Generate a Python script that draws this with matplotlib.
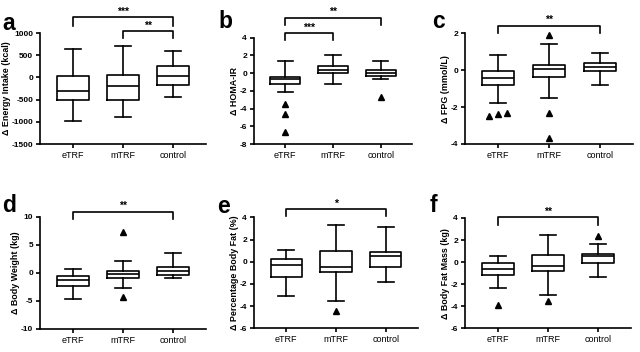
import matplotlib.pyplot as plt

plt.rcParams['font.family'] = ['Liberation Sans', 'DejaVu Sans']

groups = ["eTRF", "mTRF", "control"]

# box stats per panel: (whislo, q1, med, q3, whishi) for eTRF, mTRF, control
energy_stats = [(-980, -500, -310, 30, 650), (-900, -500, -200, 50, 710), (-450, -160, 30, 260, 600)]
energy_fliers = [[], [], []]
homa_stats = [(-2.1, -1.26, -0.7, -0.4, 1.33), (-1.19, -0.02, 0.4, 0.77, 2.0), (-0.66, -0.32, 0.05, 0.35, 1.33)]
homa_fliers = [[-3.5, -4.65, -6.64], [], [-2.73]]
fpg_stats = [(-1.8, -0.8, -0.44, -0.04, 0.82), (-1.49, -0.39, 0.07, 0.28, 1.42), (-0.8, -0.04, 0.19, 0.37, 0.91)]
fpg_fliers = [[-2.48, -2.3, -2.39], [1.9, -2.3, -3.7], []]
weight_stats = [(-4.75, -2.36, -1.34, -0.63, 0.63), (-2.66, -0.98, -0.2, 0.33, 2.18), (-0.98, -0.45, 0.33, 1.1, 3.5)]
weight_fliers = [[], [7.3, -4.27], []]
pbf_stats = [(-3.1, -1.4, -0.3, 0.28, 1.06), (-3.5, -0.92, -0.45, 1.0, 3.28), (-1.8, -0.45, 0.5, 0.9, 3.1)]
pbf_fliers = [[], [-4.4], []]
fatmass_stats = [(-2.34, -1.2, -0.59, -0.11, 0.56), (-2.98, -0.77, -0.35, 0.62, 2.49), (-1.32, -0.08, 0.56, 0.7, 1.67)]
fatmass_fliers = [[-3.85], [-3.49], [2.37]]

# significance brackets: (from group, to group, label)
energy_sig = [(0, 2, "***"), (1, 2, "**")]
homa_sig = [(0, 2, "**"), (0, 1, "***")]
fpg_sig = [(0, 2, "**")]
weight_sig = [(0, 2, "**")]
pbf_sig = [(0, 2, "*")]
fatmass_sig = [(0, 2, "**")]

panels = [
    ("a", "Δ Energy Intake (kcal)", energy_stats, energy_fliers, energy_sig, (-1500, 1000), 500, [1360, 1045]),
    ("b", "Δ HOMA-IR", homa_stats, homa_fliers, homa_sig, (-8, 4), 2, [6.26, 4.5]),
    ("c", "Δ FPG (mmol/L)", fpg_stats, fpg_fliers, fpg_sig, (-4, 2), 2, [2.42]),
    ("d", "Δ Body Weight (kg)", weight_stats, weight_fliers, weight_sig, (-10, 10), 5, [10.96]),
    ("e", "Δ Percentage Body Fat (%)", pbf_stats, pbf_fliers, pbf_sig, (-6, 4), 2, [4.76]),
    ("f", "Δ Body Fat Mass (kg)", fatmass_stats, fatmass_fliers, fatmass_sig, (-6, 4), 2, [4.06]),
]

# axes rectangles in pixels (left, top, right, bottom) of a 640x352 figure
boxes_px = [
    (40, 33, 206, 144), (254, 37.7, 412, 144), (465, 33.3, 633, 144),
    (40, 217, 206, 328.7), (254, 217.5, 418, 328.3), (465, 218, 631, 328.3),
]
# panel letter anchor (left, center y) in pixels
letters_px = [(2, 23), (218, 21), (432, 22), (2, 206), (217, 207), (430, 206)]

W, H = 640, 352
fig = plt.figure(figsize=(W / 100, H / 100), dpi=100)

lw = 1.2
for (letter, ylabel, stats, fliers, sig, ylim, step, bracket_y), (l, t, r, b), (lx, ly) in zip(
        panels, boxes_px, letters_px):
    ax = fig.add_axes([l / W, 1 - b / H, (r - l) / W, (b - t) / H])
    bxp_stats = []
    for name, (lo, q1, med, q3, hi) in zip(groups, stats):
        bxp_stats.append(dict(label=name, whislo=lo, q1=q1, med=med, q3=q3, whishi=hi, fliers=[]))
    ax.bxp(bxp_stats, positions=[0, 1, 2], widths=0.63, showfliers=False,
           boxprops=dict(color="black", linewidth=lw),
           whiskerprops=dict(color="black", linewidth=lw),
           capprops=dict(color="black", linewidth=lw),
           medianprops=dict(color="black", linewidth=lw))
    span = ylim[1] - ylim[0]
    for i, fl in enumerate(fliers):
        # spread outliers that sit too close to each other
        vals = sorted(fl)
        clusters = []
        for v in vals:
            if clusters and v - clusters[-1][-1] < 0.05 * span:
                clusters[-1].append(v)
            else:
                clusters.append([v])
        for cl in clusters:
            n = len(cl)
            for k, v in enumerate(cl):
                ax.plot(i + (k - (n - 1) / 2) * 0.17, v, marker="^", color="black",
                        markersize=4, linestyle="none", clip_on=False)
    ax.set_xlim(-0.65, 2.65)
    ax.set_ylim(*ylim)
    ticks = []
    v = ylim[0]
    while v <= ylim[1] + 1e-9:
        ticks.append(v)
        v += step
    ax.set_yticks(ticks)
    ax.set_yticklabels([f"{t:g}" for t in ticks], fontsize=6, fontweight="bold")
    ax.set_xticks([0, 1, 2])
    ax.set_xticklabels(groups, fontsize=6.5)
    ax.set_ylabel(ylabel, fontsize=6.4, fontweight="bold", labelpad=0.5)
    for s in ["top", "right"]:
        ax.spines[s].set_visible(False)
    for s in ["left", "bottom"]:
        ax.spines[s].set_linewidth(lw)
    ax.tick_params(width=lw, length=3, pad=2)
    for (g1, g2, label), yb in zip(sig, bracket_y):
        leg = (0.085 if len(label) == 3 and letter == "a" else 0.065) * span
        ax.plot([g1, g1, g2, g2], [yb - leg, yb, yb, yb - leg], color="black",
                linewidth=lw, clip_on=False)
        ax.text((g1 + g2) / 2, yb + 0.005 * span, label, ha="center", va="bottom",
                fontsize=7.5, fontweight="bold")
    fig.text(lx / W, 1 - ly / H, letter, fontsize=16.5, fontweight="bold",
             ha="left", va="center")

fig.savefig("out.png", dpi=100)
